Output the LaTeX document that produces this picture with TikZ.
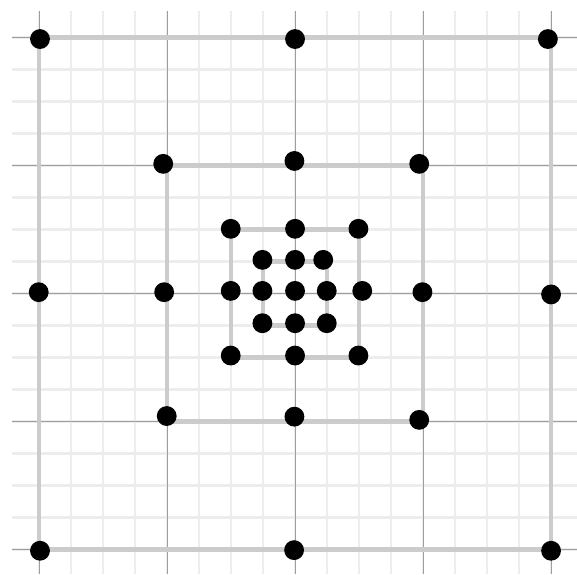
\documentclass[tikz,border=0pt]{standalone}
\usepackage{tikz}
\definecolor{GridMinor}{HTML}{EDEDED}
\definecolor{GridMajor}{HTML}{9E9E9E}
\definecolor{RingGray}{HTML}{CCCCCC}

\begin{document}
\begin{tikzpicture}[
  minorline/.style={draw=GridMinor,line width=2.2pt},
  majorline/.style={draw=GridMajor,line width=0.9pt},
  ring/.style={draw=RingGray,line width=4pt},
  dot/.style={circle,fill=black,inner sep=0pt,minimum size=0.62cm}
]
\useasboundingbox (-9.22,-8.77) rectangle (8.81,9.17);
% grid
\foreach \i in {-8,...,8}{
  \draw[minorline] (\i,-8.77) -- (\i,8.83);
  \draw[minorline] (-8.84,\i) -- (8.81,\i);
}
\foreach \i in {-8,-4,0,4,8}{
  \draw[majorline] (\i,-8.77) -- (\i,8.83);
  \draw[majorline] (-8.84,\i) -- (8.81,\i);
}
% rings
\foreach \r in {1,2,4,8}
  \draw[ring] (-\r,-\r) rectangle (\r,\r);
% dots
\node[dot] (c) at (0,0.08) {};
\foreach \name/\pos in {k1/{-1.02,1.05},k2/{0,1.05},k3/{0.88,1.05},k4/{0.99,0.08},
    k5/{0.99,-0.93},k6/{0,-0.93},k7/{-1.02,-0.93},k8/{-1.02,0.08}}
  \node[dot] (\name) at (\pos) {};
\foreach \name/\pos in {n1/{-2.01,2.02},n2/{0,2.02},n3/{1.98,2.02},n4/{2.1,0.08},
    n5/{1.98,-1.94},n6/{0,-1.94},n7/{-2.01,-1.94},n8/{-2.01,0.08}}
  \node[dot] (\name) at (\pos) {};
\foreach \name/\pos in {m1/{-4.12,4.05},m2/{-0.02,4.14},m3/{3.88,4.05},m4/{3.98,0.04},
    m5/{3.88,-3.95},m6/{-0.02,-3.85},m7/{-4.01,-3.83},m8/{-4.09,0.04}}
  \node[dot] (\name) at (\pos) {};
\foreach \name/\pos in {o1/{-7.97,7.95},o2/{0,7.95},o3/{7.9,7.95},o4/{8.0,-0.03},
    o5/{8.0,-8.04},o6/{-0.03,-8.02},o7/{-7.97,-8.04},o8/{-8.01,0.04}}
  \node[dot] (\name) at (\pos) {};
\end{tikzpicture}
\end{document}
